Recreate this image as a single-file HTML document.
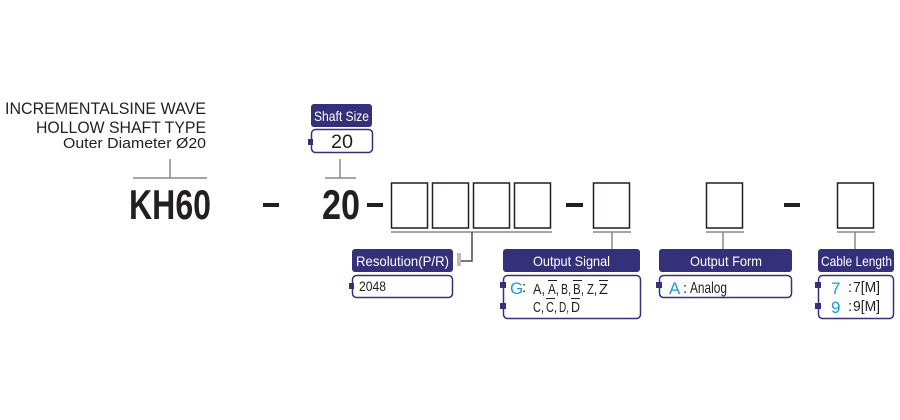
<!DOCTYPE html>
<html><head><meta charset="utf-8"><style>
html,body{margin:0;padding:0;background:#fff;}
svg{display:block;}
text{font-family:"Liberation Sans",sans-serif;}
</style></head><body>
<svg width="900" height="420" viewBox="0 0 900 420" xmlns="http://www.w3.org/2000/svg">
<g fill="#231f20">
<text x="5" y="114" font-size="17" textLength="201" lengthAdjust="spacingAndGlyphs">INCREMENTALSINE WAVE</text>
<text x="36" y="133" font-size="17" textLength="170" lengthAdjust="spacingAndGlyphs">HOLLOW SHAFT TYPE</text>
<text x="63" y="148" font-size="15" textLength="143" lengthAdjust="spacingAndGlyphs">Outer Diameter Ø20</text>
</g>
<g stroke="#888" stroke-width="1.5" fill="none">
<path d="M170 159V178M133 178H207"/>
<path d="M340 159V178M325 178H356"/>
<path d="M391 232H552"/>
<path d="M593 232H631M612 232V249"/>
<path d="M706 232H744M723 232V249"/>
<path d="M837 232H875M855 232V249"/>
</g>
<path d="M472 232V261H461" stroke="#4a4a4a" stroke-width="1.5" fill="none"/>
<rect x="457" y="253" width="4" height="13" fill="#bbb"/>
<g fill="#231f20" font-weight="bold" font-size="42">
<text x="129" y="219" textLength="82" lengthAdjust="spacingAndGlyphs">KH60</text>
<text x="322" y="219" textLength="38" lengthAdjust="spacingAndGlyphs">20</text>
</g>
<g fill="#231f20">
<rect x="263" y="203" width="16" height="4"/>
<rect x="367" y="203" width="16" height="4"/>
<rect x="566" y="203" width="17" height="4"/>
<rect x="784" y="203" width="16" height="4"/>
</g>
<g fill="#fff" stroke="#231f20" stroke-width="1.5">
<rect x="391.5" y="183" width="36" height="45"/>
<rect x="432.5" y="183" width="36" height="45"/>
<rect x="473.5" y="183" width="36" height="45"/>
<rect x="514.5" y="183" width="36" height="45"/>
<rect x="593.5" y="183" width="36" height="45"/>
<rect x="706.5" y="183" width="36" height="45"/>
<rect x="837.5" y="183" width="36" height="45"/>
</g>
<g fill="#34317a">
<rect x="311" y="104" width="61" height="23" rx="3"/>
<rect x="352" y="249" width="101" height="23" rx="3"/>
<rect x="503" y="249" width="137" height="23" rx="3"/>
<rect x="659" y="249" width="133" height="23" rx="3"/>
<rect x="818" y="249" width="76" height="23" rx="3"/>
</g>
<g fill="#fff" font-size="14">
<text x="314" y="121" textLength="55" lengthAdjust="spacingAndGlyphs">Shaft Size</text>
<text x="356" y="266" textLength="93" lengthAdjust="spacingAndGlyphs">Resolution(P/R)</text>
<text x="533" y="266" textLength="77" lengthAdjust="spacingAndGlyphs">Output Signal</text>
<text x="690" y="266" textLength="72" lengthAdjust="spacingAndGlyphs">Output Form</text>
<text x="821" y="266" textLength="71" lengthAdjust="spacingAndGlyphs">Cable Length</text>
</g>
<g fill="#fff" stroke="#34317a" stroke-width="1.5">
<rect x="311.5" y="129.5" width="61" height="23" rx="4"/>
<rect x="352.5" y="275.5" width="100" height="22" rx="4"/>
<rect x="503.5" y="275.5" width="137" height="43" rx="4"/>
<rect x="659.5" y="275.5" width="132" height="22" rx="4"/>
<rect x="818.5" y="275.5" width="75" height="43" rx="4"/>
</g>
<g fill="#34317a">
<rect x="308" y="139" width="5" height="6"/>
<rect x="349" y="283" width="5" height="6"/>
<rect x="500" y="282" width="6" height="6"/>
<rect x="500" y="303" width="6" height="6"/>
<rect x="656" y="282" width="6" height="6"/>
<rect x="815" y="282" width="6" height="6"/>
<rect x="815" y="303" width="6" height="6"/>
</g>
<g fill="#231f20">
<text x="331" y="148" font-size="19" textLength="22" lengthAdjust="spacingAndGlyphs">20</text>
<text x="359" y="291" font-size="14" textLength="27" lengthAdjust="spacingAndGlyphs">2048</text>
<text x="522" y="292" font-size="15">:</text>
<g font-size="15">
<text x="533" y="294" textLength="12" lengthAdjust="spacingAndGlyphs">A,</text>
<text x="548" y="294" textLength="11" lengthAdjust="spacingAndGlyphs">A,</text>
<text x="561" y="294" textLength="10" lengthAdjust="spacingAndGlyphs">B,</text>
<text x="573" y="294" textLength="11" lengthAdjust="spacingAndGlyphs">B,</text>
<text x="587" y="294" textLength="10" lengthAdjust="spacingAndGlyphs">Z,</text>
<text x="599" y="294" textLength="9" lengthAdjust="spacingAndGlyphs">Z</text>
<text x="533" y="312" textLength="11" lengthAdjust="spacingAndGlyphs">C,</text>
<text x="546" y="312" textLength="11" lengthAdjust="spacingAndGlyphs">C,</text>
<text x="559" y="312" textLength="10" lengthAdjust="spacingAndGlyphs">D,</text>
<text x="571" y="312" textLength="9" lengthAdjust="spacingAndGlyphs">D</text>
</g>
<text x="683" y="293" font-size="15">:</text>
<text x="690" y="293" font-size="16" textLength="37" lengthAdjust="spacingAndGlyphs">Analog</text>
<text x="848" y="292" font-size="15">:</text>
<text x="853" y="292" font-size="15" textLength="27" lengthAdjust="spacingAndGlyphs">7[M]</text>
<text x="848" y="311" font-size="15">:</text>
<text x="853" y="311" font-size="15" textLength="27" lengthAdjust="spacingAndGlyphs">9[M]</text>
</g>
<g stroke="#231f20" stroke-width="1">
<path d="M548 280.5H557M573 280.5H582M599 280.5H608"/>
<path d="M546 298.5H555M571 298.5H580"/>
</g>
<g fill="#1e9ad6" font-size="17">
<text x="510" y="294">G</text>
<text x="669" y="294">A</text>
<text x="831" y="294">7</text>
<text x="831" y="313">9</text>
</g>
</svg>
</body></html>
